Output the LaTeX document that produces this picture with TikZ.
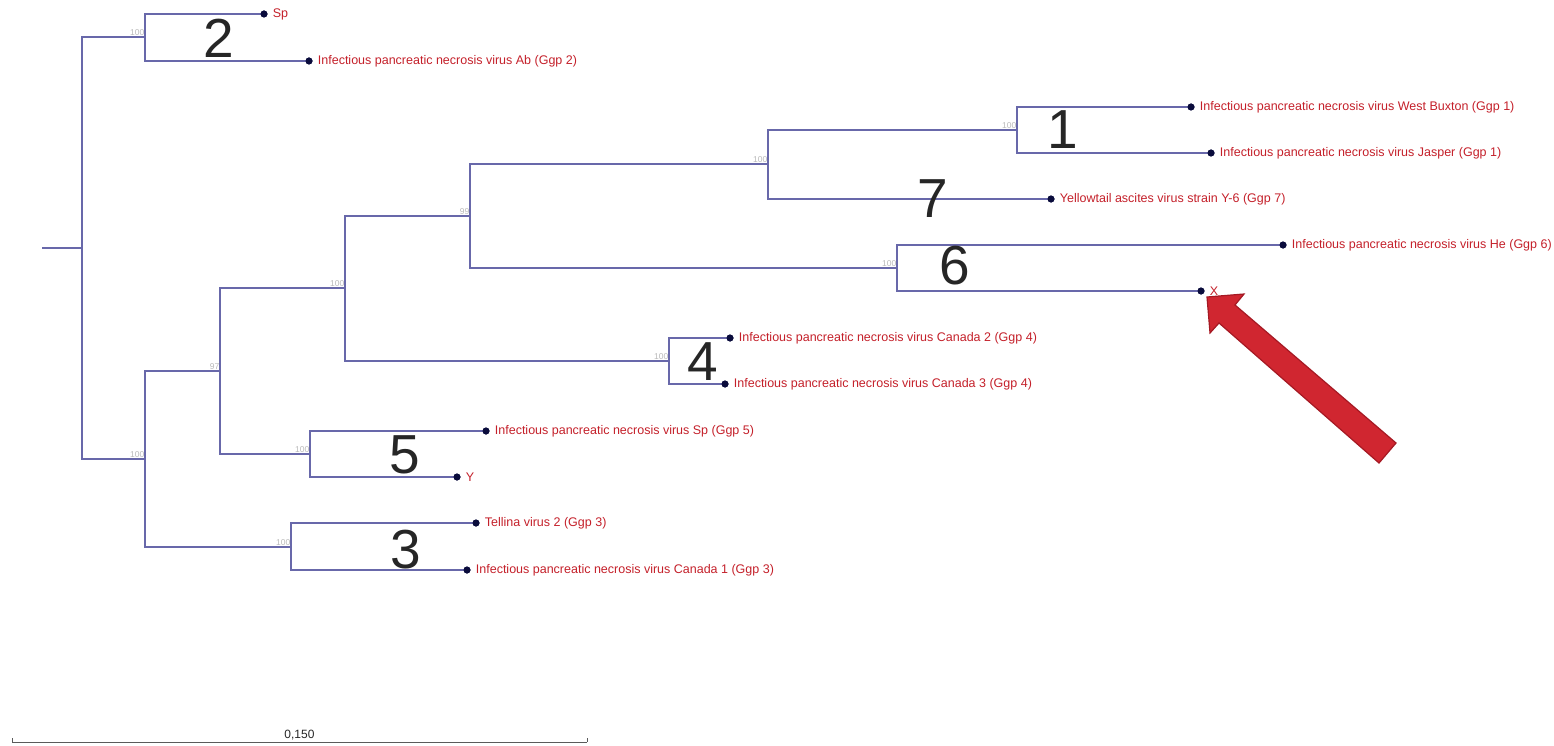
\documentclass[tikz,border=0pt]{standalone}
\usepackage{fontspec}
\setmainfont{Liberation Sans}
\definecolor{branch}{RGB}{104,104,170}
\definecolor{dotc}{RGB}{10,12,60}
\definecolor{labred}{RGB}{196,32,42}
\definecolor{bootg}{RGB}{185,185,185}
\definecolor{arrowfill}{RGB}{208,38,48}
\definecolor{arrowline}{RGB}{165,25,35}
\definecolor{scaleg}{RGB}{90,90,90}
\tikzset{
  br/.style={draw=branch, line width=1.1pt},
  leaf/.style={circle, fill=dotc, inner sep=0pt, minimum size=7pt},
  lab/.style={anchor=west, text=labred, font=\fontsize{12.5}{14}\selectfont, inner sep=0pt, xshift=5pt},
  boot/.style={anchor=south east, text=bootg, font=\fontsize{8.5}{9}\selectfont, inner sep=0pt, yshift=1.5pt, xshift=-0.5pt},
  big/.style={text=black!85, font=\fontsize{55}{60}\selectfont, inner sep=0pt}
}
\begin{document}
\begin{tikzpicture}[x=1pt,y=-1pt]
\useasboundingbox (0,0) rectangle (1554,746);
% internal nodes
\coordinate (rs) at (42,248);
\coordinate (r0) at (82,248);
\coordinate (a) at (145,37);
\coordinate (b) at (145,459);
\coordinate (c) at (220,371);
\coordinate (d) at (345,288);
\coordinate (e) at (470,216);
\coordinate (f) at (768,164);
\coordinate (g) at (1017,130);
\coordinate (h) at (897,268);
\coordinate (i) at (669,361);
\coordinate (j) at (310,454);
\coordinate (k) at (291,547);
% leaves
\node[leaf] (sp) at (264,14) {};
\node[leaf] (ab) at (309,61) {};
\node[leaf] (wb) at (1191,107) {};
\node[leaf] (ja) at (1211,153) {};
\node[leaf] (yt) at (1051,199) {};
\node[leaf] (he) at (1283,245) {};
\node[leaf] (x) at (1201,291) {};
\node[leaf] (c2) at (730,338) {};
\node[leaf] (c3) at (725,384) {};
\node[leaf] (sp5) at (486,431) {};
\node[leaf] (y) at (457,477) {};
\node[leaf] (tel) at (476,523) {};
\node[leaf] (c1) at (467,570) {};
% branches
\draw[br] (rs) -- (r0);
\draw[br] (r0) |- (a);
\draw[br] (r0) |- (b);
\draw[br] (a) |- (sp.center);
\draw[br] (a) |- (ab.center);
\draw[br] (b) |- (c);
\draw[br] (b) |- (k);
\draw[br] (c) |- (d);
\draw[br] (c) |- (j);
\draw[br] (d) |- (e);
\draw[br] (d) |- (i);
\draw[br] (e) |- (f);
\draw[br] (e) |- (h);
\draw[br] (f) |- (g);
\draw[br] (f) |- (yt.center);
\draw[br] (g) |- (wb.center);
\draw[br] (g) |- (ja.center);
\draw[br] (h) |- (he.center);
\draw[br] (h) |- (x.center);
\draw[br] (i) |- (c2.center);
\draw[br] (i) |- (c3.center);
\draw[br] (j) |- (sp5.center);
\draw[br] (j) |- (y.center);
\draw[br] (k) |- (tel.center);
\draw[br] (k) |- (c1.center);
% redraw dots on top
\foreach \n in {sp,ab,wb,ja,yt,he,x,c2,c3,sp5,y,tel,c1} \fill[dotc] (\n) circle (3.5pt);
% bootstrap values
\node[boot] (ba) at (a) {100};
\node[boot] (bb) at (b) {100};
\node[boot] (bc) at (c) {97};
\node[boot] (bd) at (d) {100};
\node[boot] (be) at (e) {99};
\node[boot] (bf) at (f) {100};
\node[boot] (bg) at (g) {100};
\node[boot] (bh) at (h) {100};
\node[boot] (bi) at (i) {100};
\node[boot] (bj) at (j) {100};
\node[boot] (bk) at (k) {100};
% leaf labels
\node[lab] (tsp) at (sp.east) {Sp};
\node[lab] (tab) at (ab.east) {Infectious pancreatic necrosis virus Ab (Ggp 2)};
\node[lab] (twb) at (wb.east) {Infectious pancreatic necrosis virus West Buxton (Ggp 1)};
\node[lab] (tja) at (ja.east) {Infectious pancreatic necrosis virus Jasper (Ggp 1)};
\node[lab] (tyt) at (yt.east) {Yellowtail ascites virus strain Y-6 (Ggp 7)};
\node[lab] (the) at (he.east) {Infectious pancreatic necrosis virus He (Ggp 6)};
\node[lab] (tx) at (x.east) {X};
\node[lab] (tc2) at (c2.east) {Infectious pancreatic necrosis virus Canada 2 (Ggp 4)};
\node[lab] (tc3) at (c3.east) {Infectious pancreatic necrosis virus Canada 3 (Ggp 4)};
\node[lab] (tsp5) at (sp5.east) {Infectious pancreatic necrosis virus Sp (Ggp 5)};
\node[lab] (ty) at (y.east) {Y};
\node[lab] (ttel) at (tel.east) {Tellina virus 2 (Ggp 3)};
\node[lab] (tc1) at (c1.east) {Infectious pancreatic necrosis virus Canada 1 (Ggp 3)};
% big group numbers
\node[big] (n2) at (219,38) {2};
\node[big] (n1) at (1063,130) {1};
\node[big] (n7) at (933,199) {7};
\node[big] (n6) at (955,266) {6};
\node[big] (n4) at (703,362) {4};
\node[big] (n5) at (405,455) {5};
\node[big] (n3) at (406,550) {3};
% red arrow
\draw[fill=arrowfill, draw=arrowline, line width=1.2pt, line join=miter]
  (1207,297) -- (1244,294) -- (1235,305) -- (1396,443) -- (1379,463) -- (1219,323) -- (1210,333) -- cycle;
% scale bar
\coordinate (s1) at (12,742);
\coordinate (s2) at (587,742);
\draw[scaleg, line width=1pt] (s1) -- (s2);
\draw[scaleg, line width=1pt] (s1) -- ++(0,-4);
\draw[scaleg, line width=1pt] (s2) -- ++(0,-4);
\node[text=black!85, font=\fontsize{12}{14}\selectfont, anchor=south, inner sep=0pt] (sl) at (299.5,740) {0,150};
\end{tikzpicture}
\end{document}
